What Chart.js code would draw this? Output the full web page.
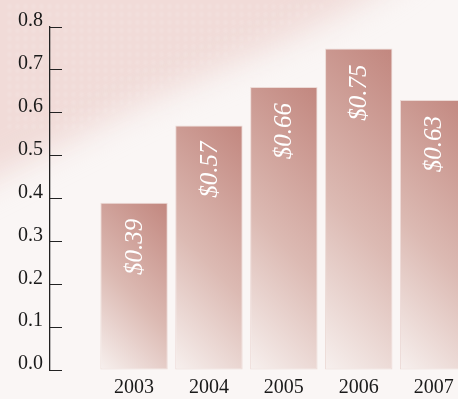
<!DOCTYPE html>
<html>
<head>
<meta charset="utf-8">
<script src="https://cdn.jsdelivr.net/npm/chart.js@4/dist/chart.umd.min.js"></script>
<style>
  html, body { margin: 0; padding: 0; background: #faf6f5; overflow: hidden; }
  canvas { display: block; }
</style>
</head>
<body>
<canvas id="graphique" width="458" height="399"></canvas>
<script>
// data
const years = [2003, 2004, 2005, 2006, 2007]
const values = [0.39, 0.57, 0.66, 0.75, 0.63]
const yTicks = [0.0, 0.1, 0.2, 0.3, 0.4, 0.5, 0.6, 0.7, 0.8]

const serif = "'Liberation Serif', 'Times New Roman', serif"

// background: pale paper with a pink blurred wave top-left
const fondPlugin = {
    id: 'fond',
    beforeDraw(chart) {
        const c = chart.ctx
        const w = chart.width, h = chart.height
        c.save()
        c.fillStyle = '#faf6f5'
        c.fillRect(0, 0, w, h)
        c.filter = 'blur(16px)'
        c.fillStyle = 'rgba(238,214,210,0.85)'
        c.beginPath()
        c.moveTo(-40, -40)
        c.lineTo(420, -40)
        c.bezierCurveTo(340, 30, 190, 75, 90, 130)
        c.lineTo(-40, 195)
        c.closePath()
        c.fill()
        c.filter = 'blur(1.5px)'
        // faint knit texture
        c.fillStyle = 'rgba(255,255,255,0.18)'
        for (let y = 4; y < 130; y += 8) {
            for (let x = 4; x < 330 - y * 2; x += 8) {
                c.fillRect(x + (y % 16 ? 4 : 0), y, 3, 5)
            }
        }
        c.filter = 'none'
        c.restore()
    }
}

// rotated dollar labels inside bars
const etiquettePlugin = {
    id: 'etiquettes',
    afterDatasetsDraw(chart) {
        const c = chart.ctx
        const meta = chart.getDatasetMeta(0)
        c.save()
        c.beginPath()
        c.rect(chart.chartArea.left, 0, chart.chartArea.right - chart.chartArea.left, chart.height)
        c.clip()
        meta.data.forEach((bar, i) => {
            c.save()
            c.translate(bar.x + 1, bar.y + 16)
            c.rotate(-Math.PI / 2)
            c.font = "italic 25px " + serif
            c.fillStyle = '#ffffff'
            c.textAlign = 'right'
            c.textBaseline = 'middle'
            c.fillText('$' + values[i].toFixed(2), 0, 0)
            c.restore()
        })
        c.restore()
    }
}

function degrade(ctx) {
    const chart = ctx.chart
    if (!chart.chartArea) return '#d4a9a1'
    const i = ctx.dataIndex
    const xs = chart.scales.x, ys = chart.scales.y
    const cx = xs.getPixelForValue(years[i])
    const top = ys.getPixelForValue(values[i])
    const bottom = ys.getPixelForValue(0)
    const w = 67, hgt = bottom - top
    const left = cx - w / 2
    const d = (w + hgt) / 2
    const g = chart.ctx.createLinearGradient(left, bottom, left + d, bottom - d)
    g.addColorStop(0, '#f7f0ee')
    g.addColorStop(0.45, '#dcbab3')
    g.addColorStop(1, '#c2877f')
    return g
}

new Chart(document.getElementById('graphique'), {
    type: 'bar',
    data: {
        datasets: [{
            data: years.map((y, i) => ({ x: y, y: values[i] })),
            backgroundColor: degrade,
            borderColor: '#ecdad6',
            borderWidth: 1,
            borderSkipped: false,
            categoryPercentage: 1,
            barPercentage: 0.9
        }]
    },
    options: {
        responsive: false,
        animation: false,
        devicePixelRatio: 1,
        layout: { padding: { top: 27, right: 0, bottom: 0, left: 0 } },
        plugins: {
            legend: { display: false },
            tooltip: { enabled: false }
        },
        scales: {
            x: {
                type: 'linear',
                offset: false,
                min: 2001.878,
                max: 2007.325,
                afterFit: s => { s.height = 29; s.paddingLeft = 0; s.paddingRight = 0 },
                afterBuildTicks: s => { s.ticks = years.map(v => ({ value: v })) },
                grid: { display: false, drawTicks: false, offset: false },
                border: { display: false },
                ticks: {
                    autoSkip: false,
                    maxRotation: 0,
                    padding: 6,
                    color: '#1a1a1a',
                    font: { family: serif, size: 20 },
                    callback: v => String(v)
                }
            },
            y: {
                min: 0,
                max: 0.8,
                afterFit: s => { s.width = 50; s.paddingTop = 0; s.paddingBottom = 0 },
                afterBuildTicks: s => { s.ticks = yTicks.map(v => ({ value: v })) },
                grid: {
                    drawOnChartArea: false,
                    drawTicks: true,
                    tickLength: -12,
                    color: '#222',
                    lineWidth: 1
                },
                border: { display: true, color: '#222', width: 1.3 },
                ticks: {
                    padding: 19,
                    labelOffset: -6,
                    color: '#1a1a1a',
                    font: { family: serif, size: 20 },
                    callback: v => v.toFixed(1)
                }
            }
        }
    },
    plugins: [fondPlugin, etiquettePlugin]
})
</script>
</body>
</html>
